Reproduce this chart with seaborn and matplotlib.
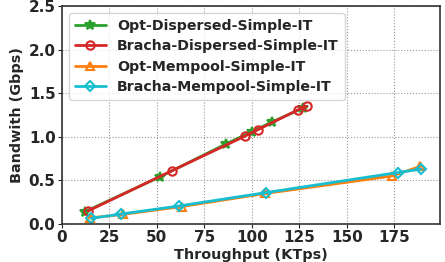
import pandas as pd
import matplotlib.pyplot as plt
import seaborn as sns

# 시리즈별 (처리량 KTps, 대역폭 Gbps)
opt_disp_x = [12, 51.5, 86.5, 100, 110.5, 127]
opt_disp_y = [0.14, 0.54, 0.92, 1.06, 1.17, 1.33]
bracha_disp_x = [13.8, 57.8, 96.5, 103, 124.3, 128.8]
bracha_disp_y = [0.15, 0.61, 1.01, 1.08, 1.31, 1.35]
opt_mem_x = [15, 32, 63, 107, 173.5, 188.5]
opt_mem_y = [0.07, 0.11, 0.20, 0.35, 0.55, 0.66]
bracha_mem_x = [15.5, 31.3, 61.4, 107.3, 176.7, 189]
bracha_mem_y = [0.065, 0.115, 0.206, 0.36, 0.59, 0.63]

series = [
    ('Opt-Dispersed-Simple-IT', opt_disp_x, opt_disp_y, 'tab:green', '*'),
    ('Bracha-Dispersed-Simple-IT', bracha_disp_x, bracha_disp_y, 'tab:red', 'o'),
    ('Opt-Mempool-Simple-IT', opt_mem_x, opt_mem_y, 'tab:orange', '^'),
    ('Bracha-Mempool-Simple-IT', bracha_mem_x, bracha_mem_y, 'tab:cyan', 'D'),
]

sns.set_style('ticks')
plt.rcParams['font.family'] = ['DejaVu Sans']
plt.rcParams['font.weight'] = 'bold'

fig, ax = plt.subplots(figsize=(4.45, 2.62), dpi=100)
fig.subplots_adjust(left=0.139, right=0.989, top=0.977, bottom=0.145)

for name, xs, ys, color, marker in series:
    df = pd.DataFrame({'x': xs, 'y': ys})
    face = color if marker == '*' else 'none'
    size = 7 if marker == '*' else 5.5 if marker == 'D' else 6
    sns.lineplot(data=df, x='x', y='y', ax=ax, color=color, marker=marker,
                 markersize=size, markerfacecolor=face, markeredgecolor=color,
                 markeredgewidth=1.5, linewidth=2, label=name)

ax.set_xlim(0, 199)
ax.set_ylim(0, 2.5)
ax.set_xticks([0, 25, 50, 75, 100, 125, 150, 175])
ax.set_yticks([0, 0.5, 1.0, 1.5, 2.0, 2.5])
ax.set_xlabel('Throughput (KTps)', fontsize=10.4, weight='bold', labelpad=2)
ax.set_ylabel('Bandwith (Gbps)', fontsize=10.4, weight='bold', labelpad=3)
ax.tick_params(labelsize=11, length=3, pad=1.5)
for lbl in ax.get_xticklabels() + ax.get_yticklabels():
    lbl.set_fontweight('bold')
ax.grid(True, linestyle=':', color='#999999', linewidth=0.8)
for s in ax.spines.values():
    s.set_color('#333333')
    s.set_linewidth(1.2)

leg = ax.legend(loc='upper left', prop={'weight': 'bold', 'size': 10.2},
                handlelength=2.2, borderaxespad=0.5, labelspacing=0.45)

plt.savefig('out.png', dpi=100)
